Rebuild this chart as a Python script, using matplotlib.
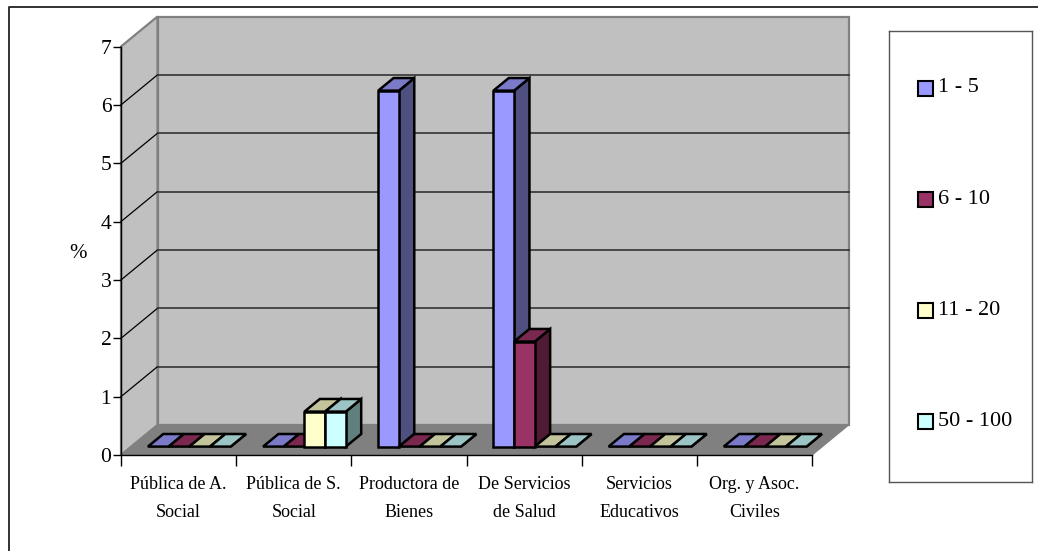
import matplotlib
matplotlib.use('Agg')
import matplotlib.pyplot as plt
from matplotlib.lines import Line2D
from matplotlib.patches import Polygon, Rectangle

plt.rcParams['font.family'] = ['Liberation Serif', 'DejaVu Serif']

categories = ['Pública de A.\nSocial', 'Pública de S.\nSocial', 'Productora de\nBienes',
              'De Servicios\nde Salud', 'Servicios\nEducativos', 'Org. y Asoc.\nCiviles']
series_names = ['1 - 5', '6 - 10', '11 - 20', '50 - 100']
v_1_5 = [0, 0, 6.1, 6.1, 0, 0]
v_6_10 = [0, 0, 0, 1.8, 0, 0]
v_11_20 = [0, 0.6, 0, 0, 0, 0]
v_50_100 = [0, 0.6, 0, 0, 0, 0]
series = [v_1_5, v_6_10, v_11_20, v_50_100]
front_colors = ['#9999FF', '#993366', '#FFFFCC', '#CCFFFF']
top_colors = ['#7A7AC8', '#7A2850', '#C4C49C', '#9CC4C4']
side_colors = ['#4F4F80', '#4F1A33', '#808066', '#608080']

W, H = 1038, 551
fig = plt.figure(figsize=(W / 100, H / 100), dpi=100)
# only the left and top edges of the outer frame are in the picture
fig.add_artist(Line2D([8.5 / W, 8.5 / W, 1], [0, 1 - 7 / H, 1 - 7 / H], color='#222222', lw=1.3))

# front plane of the fake 3D box
ax = fig.add_axes([121 / W, 1 - 455 / H, 691 / W, 408.5 / H])
ax.set_xlim(0, 6)
ax.set_ylim(0, 7)
ax.patch.set_visible(False)

# depth of the box in data units
dx = 36.5 / (691 / 6)
dy = 30 / (408.5 / 7)


def pt(x, y, d):
    return (x + d * dx, y + d * dy)


def poly(pts, color, ec='black', lw=1.8, z=3):
    ax.add_patch(Polygon(pts, closed=True, fc=color, ec=ec, lw=lw, clip_on=False,
                         zorder=z, joinstyle='miter'))


# walls and floor
poly([pt(0, 0, 1), pt(6, 0, 1), pt(6, 7, 1), pt(0, 7, 1)], '#C0C0C0', '#808080', 1.6, 1)
poly([pt(0, 0, 0), pt(0, 0, 1), pt(0, 7, 1), pt(0, 7, 0)], '#C0C0C0', '#808080', 1.6, 1)
poly([pt(0, 0, 0), pt(6, 0, 0), pt(6, 0, 1), pt(0, 0, 1)], '#808080', '#808080', 1, 1)

for v in range(1, 7):
    a = pt(0, v, 0)
    b = pt(0, v, 1)
    c = pt(6, v, 1)
    ax.plot([a[0], b[0]], [a[1], b[1]], color='black', lw=0.9, clip_on=False, zorder=2)
    ax.plot([b[0], c[0]], [b[1], c[1]], color='#333333', lw=1.2, clip_on=False, zorder=2)

# bars
bw = 0.1797
start = 0.145
d0, d1 = 0.28, 0.70
for i in range(len(categories)):
    for s, vals in enumerate(series):
        x0 = i + start + s * bw
        x1 = x0 + bw
        v = vals[i]
        z = 3 + i + s * 0.1
        poly([pt(x1, 0, d0), pt(x1, 0, d1), pt(x1, v, d1), pt(x1, v, d0)], side_colors[s], z=z)
        poly([pt(x0, v, d0), pt(x1, v, d0), pt(x1, v, d1), pt(x0, v, d1)], top_colors[s], z=z)
        if v > 0:
            poly([pt(x0, 0, d0), pt(x1, 0, d0), pt(x1, v, d0), pt(x0, v, d0)], front_colors[s], z=z)

# axes
for side in ['top', 'right']:
    ax.spines[side].set_visible(False)
for side in ['left', 'bottom']:
    ax.spines[side].set_color('black')
    ax.spines[side].set_linewidth(1.0)
    ax.spines[side].set_zorder(20)
ax.set_yticks(range(8))
ax.tick_params(axis='y', length=6, width=1, labelsize=15.5, pad=1)
ax.set_xticks(range(7))
ax.set_xticklabels([])
ax.tick_params(axis='x', which='major', length=8, width=1)
ax.set_xticks([i + 0.5 for i in range(6)], minor=True)
ax.set_xticklabels(categories, minor=True, fontsize=13, linespacing=1.85)
ax.tick_params(axis='x', which='minor', length=0, pad=15)
fig.text(78 / W, 1 - 253 / H, '%', fontsize=15, ha='center', va='center')

# legend box
lg = fig.add_axes([889 / W, 1 - 482 / H, 143 / W, 451 / H])
lg.set_xlim(889, 1032)
lg.set_ylim(482, 31)
lg.set_xticks([])
lg.set_yticks([])
for sp in lg.spines.values():
    sp.set_color('#555555')
    sp.set_linewidth(1.0)
for s, name in enumerate(series_names):
    y = 88.3 + s * 111.2
    lg.add_patch(Rectangle((918, y - 7.5), 15, 15, fc=front_colors[s], ec='black', lw=1.5))
    lg.text(938, y - 0.5, name, fontsize=16, va='center', ha='left')

fig.savefig('out.png', dpi=100)
